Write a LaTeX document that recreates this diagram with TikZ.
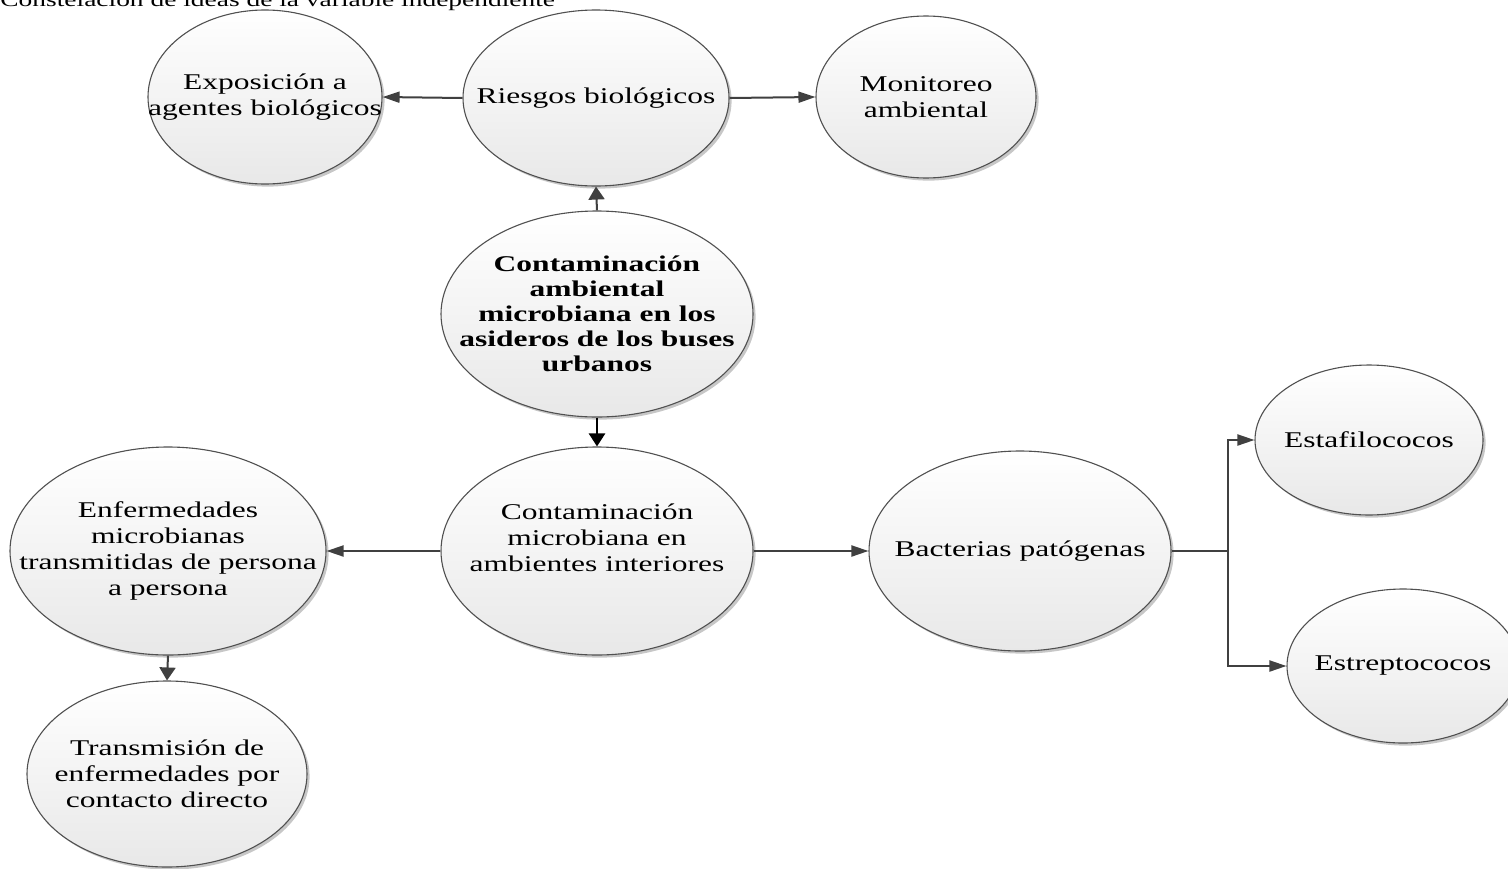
\documentclass[tikz,border=0pt]{standalone}
\usepackage{fontspec}
\setmainfont{Liberation Serif}[FakeStretch=1.4]
\usetikzlibrary{arrows.meta,shapes.geometric,shadows}
\definecolor{linegray}{HTML}{404040}
\definecolor{edgegray}{HTML}{505050}
\tikzset{
  ell/.style 2 args={ellipse, draw=edgegray, line width=0.55pt, inner sep=0pt,
    minimum width={#1*0.5pt}, minimum height={#2*0.5pt},
    top color=white, bottom color=black!9,
    drop shadow={shadow xshift=1.3pt, shadow yshift=-1.3pt, opacity=0.22, fill=black}},
  txt/.style={align=center, font=\fontsize{11.25}{12.9}\selectfont, inner sep=0pt},
  btxt/.style={txt, font=\fontsize{11.25}{12.5}\selectfont\bfseries},
  harr/.style={draw=linegray, line width=1pt, -{Triangle[length=8.5pt,width=5.5pt]}},
  varr/.style={draw=linegray, line width=1pt, -{Triangle[length=6.5pt,width=8pt]}},
  plain/.style={draw=linegray, line width=1pt},
}
\begin{document}
\begin{tikzpicture}[x=0.5pt, y=-0.5pt]
\fill[white] (0,0) rectangle (1508,868);
\useasboundingbox (0,0) rectangle (1508,868);

\node[anchor=base west, inner sep=0pt, font=\fontsize{9.8}{11}\selectfont] (title) at (0,6)
  {Constelación de ideas de la variable independiente};

\node[ell={234}{174}, label={[txt]center:Exposición a\\agentes biológicos}] (expo) at (265,97) {};
\node[ell={266}{176}, label={[txt]center:Riesgos biológicos}] (ries) at (596,98) {};
\node[ell={220}{162}, label={[txt]center:Monitoreo\\ambiental}] (moni) at (926,97) {};
\node[ell={312}{206}, label={[btxt]center:Contaminación\\ambiental\\microbiana en los\\asideros de los buses\\urbanos}] (cent) at (597,314) {};
\node[ell={312}{208}] (cmai) at (597,551) {};
\node[txt] (cmait) at (597,538) {Contaminación\\microbiana en\\ambientes interiores};
\node[ell={316}{208}, label={[txt]center:Enfermedades\\microbianas\\transmitidas de persona\\a persona}] (enf) at (168,551) {};
\node[ell={280}{186}, label={[txt]center:Transmisión de\\enfermedades por\\contacto directo}] (trans) at (167,774) {};
\node[ell={302}{200}, label={[txt]center:Bacterias patógenas}] (bact) at (1020,551) {};
\node[ell={228}{150}, label={[txt]center:Estafilococos}] (esta) at (1369,440) {};
\node[ell={232}{154}, label={[txt]center:Estreptococos}] (estr) at (1403,666) {};

\coordinate (jn) at (1228,551);

\draw[harr] (ries.west) -- (expo.east);
\draw[harr] (ries.east) -- (moni.west);
\draw[varr] (cent.north) -- (ries.south);
\draw[varr, draw=black, line width=1.3pt] (cent.south) -- (cmai.north);
\draw[harr] (cmai.west) -- (enf.east);
\draw[harr] (cmai.east) -- (bact.west);
\draw[varr] (enf.south) -- (trans.north);
\draw[plain] (bact.east) -- (jn);
\draw[harr] (jn) |- (esta.west);
\draw[harr] (jn) |- (estr.west);
\end{tikzpicture}
\end{document}
